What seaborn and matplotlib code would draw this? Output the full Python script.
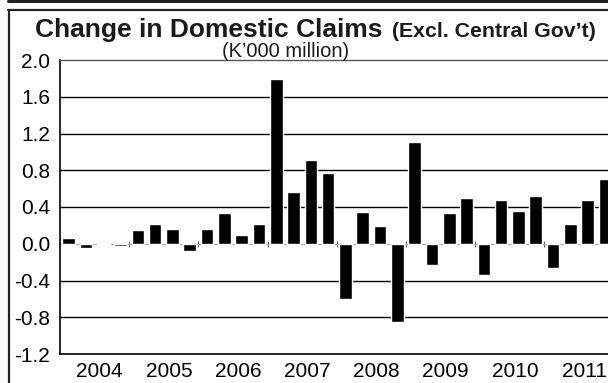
import matplotlib
matplotlib.use("Agg")
import matplotlib.pyplot as plt
from matplotlib.lines import Line2D
import seaborn as sns
import pandas as pd

# Quarterly change in domestic claims (excluding central government), K'000 million
years = ["2004", "2005", "2006", "2007", "2008", "2009", "2010", "2011"]
quarters = [f"{y}Q{q}" for y in years for q in range(1, 5)]
values = [
    0.06, -0.05, -0.01, -0.02,   # 2004
    0.15, 0.21, 0.16, -0.08,     # 2005
    0.16, 0.33, 0.10, 0.22,      # 2006
    1.79, 0.56, 0.91, 0.77,      # 2007
    -0.60, 0.35, 0.19, -0.85,    # 2008
    1.11, -0.23, 0.34, 0.50,     # 2009
    -0.34, 0.48, 0.36, 0.52,     # 2010
    -0.26, 0.22, 0.48, 0.70,     # 2011
]
y_ticks = [2.0, 1.6, 1.2, 0.8, 0.4, 0.0, -0.4, -0.8, -1.2]
y_tick_labels = ["2.0", "1.6", "1.2", "0.8", "0.4", "0.0", "-0.4", "-0.8", "-1.2"]

df = pd.DataFrame({"quarter": quarters, "value": values})

sns.set_theme(style="white")
plt.rcParams["font.family"] = ["Liberation Sans", "DejaVu Sans"]

W, H = 608, 383
fig = plt.figure(figsize=(W / 100, H / 100), dpi=100)
fig.patch.set_facecolor("white")

slot = 17.3
ax = fig.add_axes([60 / W, 29 / H, slot * len(quarters) / W, 294 / H])

sns.barplot(data=df, x="quarter", y="value", color="black", width=0.73,
            saturation=1, ax=ax, zorder=3)

ax.set_ylim(-1.2, 2.0)
ax.set_xlim(-0.5, len(quarters) - 0.5)
ax.set_xlabel("")
ax.set_ylabel("")

# horizontal grid
for v in y_ticks:
    if v in (2.0, -1.2):
        continue
    if v == 0.0:
        ax.axhline(v, color="#aaaaaa", lw=0.8, zorder=1)
    else:
        ax.axhline(v, color="black", lw=1.0, zorder=1)

ax.set_yticks(y_ticks)
ax.set_yticklabels(y_tick_labels)
ax.tick_params(axis="y", length=0, pad=7, labelsize=15, colors="black")

# year labels along the bottom
year_pos = [4 * i + 1.8 for i in range(len(years))]
ax.set_xticks(year_pos)
ax.set_xticklabels(years)
ax.tick_params(axis="x", length=0, pad=6, labelsize=15, colors="black")

for side in ("left", "bottom"):
    ax.spines[side].set_color("black")
    ax.spines[side].set_linewidth(1.2)
ax.spines["top"].set_color("#555555")
ax.spines["top"].set_linewidth(1.0)
ax.spines["right"].set_visible(False)

# year boundary ticks on the zero line
zero_frac = (0 - (-1.2)) / (2.0 - (-1.2))
sec = ax.secondary_xaxis(zero_frac)
sec.set_xticks([4 * i - 0.5 for i in range(1, len(years))])
sec.set_xticklabels([])
sec.tick_params(direction="inout", length=4, width=0.8, color="#666666")
for s in sec.spines.values():
    s.set_visible(False)

# titles
base = 1 - 37 / H
fig.text(35 / W, base, "Change in Domestic Claims", fontsize=19, fontweight="bold",
         ha="left", va="baseline", color="#1a1a1a")
fig.text(392 / W, base, "(Excl. Central Gov\u2019t)", fontsize=15.3, fontweight="bold",
         ha="left", va="baseline", color="#1a1a1a")
fig.text(286 / W, 1 - 57 / H, "(K\u2019000 million)", fontsize=14.5,
         ha="center", va="baseline", color="#1a1a1a")

# outer frame
fig.add_artist(Line2D([8 / W, 1], [1 - 1 / H, 1 - 1 / H], color="#222222", lw=2.2))
fig.add_artist(Line2D([8 / W, 1], [1 - 9.5 / H, 1 - 9.5 / H], color="#222222", lw=1.6))
fig.add_artist(Line2D([9 / W, 9 / W], [0, 1 - 9.5 / H], color="#222222", lw=1.6))

fig.savefig("out.png", dpi=100, facecolor="white")
